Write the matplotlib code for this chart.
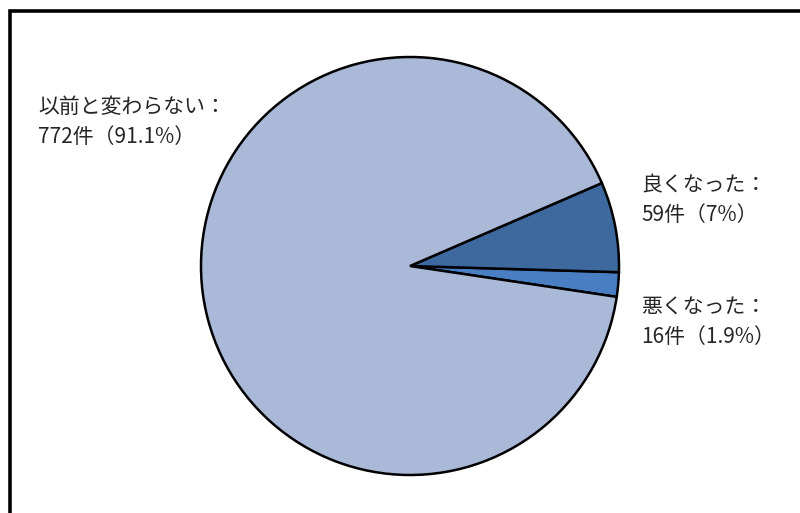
import matplotlib
matplotlib.use('Agg')
import matplotlib.pyplot as plt
from matplotlib.patches import Rectangle

plt.rcParams['font.family'] = ['Noto Sans CJK JP', 'DejaVu Sans']

# Data (counter-clockwise drawing order)
categories = ['悪くなった', '良くなった', '以前と変わらない']
counts = [16, 59, 772]
percents = ['1.9%', '7%', '91.1%']
colors = ['#4a7ec2', '#3d699f', '#aab9d8']

fig = plt.figure(figsize=(8, 5.13), dpi=100)

# Outer frame (clipped at the right and bottom like the original)
fig.patches.append(Rectangle((9.5 / 800, -0.1), 1.2, 1 - 10.5 / 513 + 0.1,
                             transform=fig.transFigure, fill=False,
                             edgecolor='black', linewidth=2.6))

# Pie axes: centre (410, 266) px, radius 209 px
cx, cy, r = 410, 266, 209
ax = fig.add_axes([(cx - r) / 800, (513 - cy - r) / 513, 2 * r / 800, 2 * r / 513])
ax.pie(counts, colors=colors, startangle=-8.5, counterclock=True, radius=1,
       wedgeprops=dict(edgecolor='black', linewidth=1.8))
ax.set_xlim(-1, 1)
ax.set_ylim(-1, 1)
ax.set_aspect('auto')
ax.axis('off')


def px(x, y):
    return (x - cx) / r, (cy - y) / r


label_pos = [(641, 322), (641, 200), (38, 122)]
for cat, n, p, (x, y) in zip(categories, counts, percents, label_pos):
    tx, ty = px(x, y)
    ax.text(tx, ty, f'{cat}：\n{n}件（{p}）', ha='left', va='center',
            fontsize=15, color='#262626', linespacing=1.45, clip_on=False)

fig.savefig('out.png', dpi=100)
